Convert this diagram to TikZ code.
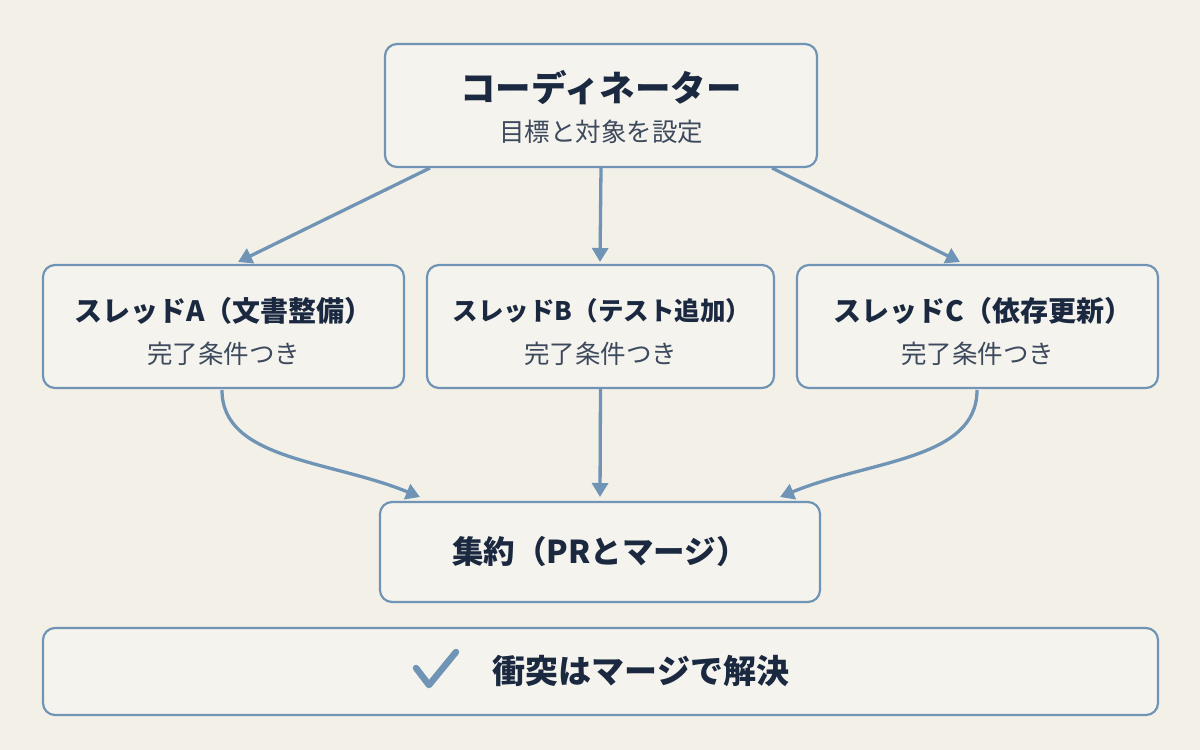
\documentclass[tikz,border=0pt]{standalone}
\usepackage{fontspec}
\setmainfont{Noto Sans CJK JP}
\usetikzlibrary{arrows.meta}
\definecolor{bg}{HTML}{F3F0E8}
\definecolor{bd}{HTML}{7094B5}
\definecolor{bf}{HTML}{F5F3ED}
\definecolor{tx}{HTML}{1B2940}
\begin{document}
\begin{tikzpicture}[x=1pt,y=-1pt,
 box/.style={draw=bd,line width=2.2pt,fill=bf,rounded corners=12pt},
 ttl/.style={text=tx,font=\fontsize{28}{32}\selectfont\bfseries},
 big/.style={text=tx,font=\fontsize{33}{38}\selectfont\bfseries},
 sub/.style={text=tx!85,font=\fontsize{25.5}{29}\selectfont},
 arr/.style={draw=bd,line width=3.3pt,-{Triangle[length=14pt,width=16pt]}}]
\fill[bg] (0,0) rectangle (1200,750);
\useasboundingbox (0,0) rectangle (1200,750);
\node[box,minimum width=432pt,minimum height=123pt] (co) at (601,105.5) {};
\node[text=tx,font=\fontsize{35.5}{40}\selectfont\bfseries] (cot) at (601,88) {コーディネーター};
\node[sub] (cos) at (601,132) {目標と対象を設定};
\node[box,minimum width=361pt,minimum height=123pt] (a) at (223.5,326.5) {};
\node[ttl] at (223.5,311) {スレッドA（文書整備）};
\node[sub] at (223.5,354) {完了条件つき};
\node[box,minimum width=347pt,minimum height=123pt] (b) at (600.5,326.5) {};
\node[text=tx,font=\fontsize{25.5}{30}\selectfont\bfseries] at (602,311) {スレッドB（テスト追加）};
\node[sub] at (600.5,354) {完了条件つき};
\node[box,minimum width=361pt,minimum height=123pt] (c) at (977.5,326.5) {};
\node[ttl] at (983,311) {スレッドC（依存更新）};
\node[sub] at (977.5,354) {完了条件つき};
\node[box,minimum width=440pt,minimum height=100pt] (m) at (600,552) {};
\node[text=tx,font=\fontsize{31.5}{36}\selectfont\bfseries] at (600,552) {集約（PRとマージ）};
\node[box,minimum width=1115pt,minimum height=87pt] (f) at (600.5,671.5) {};
\node[big] (ft) at (641,671) {衝突はマージで解決};
\draw[bd,line width=6.5pt,line cap=round,line join=round] (416,668) -- (429,685) -- (456,652);
\coordinate (c1) at (430,168); \coordinate (c3) at (772,168);
\draw[arr] (c1) -- (238,262);
\draw[arr] (co.south) -- (600,262);
\draw[arr] (c3) -- (960,262);
\draw[arr] (222,390) .. controls (222,460) and (330,460) .. (420,497);
\draw[arr] (b.south) -- (600,497);
\draw[arr] (977,390) .. controls (977,460) and (870,460) .. (780,497);
\end{tikzpicture}
\end{document}
